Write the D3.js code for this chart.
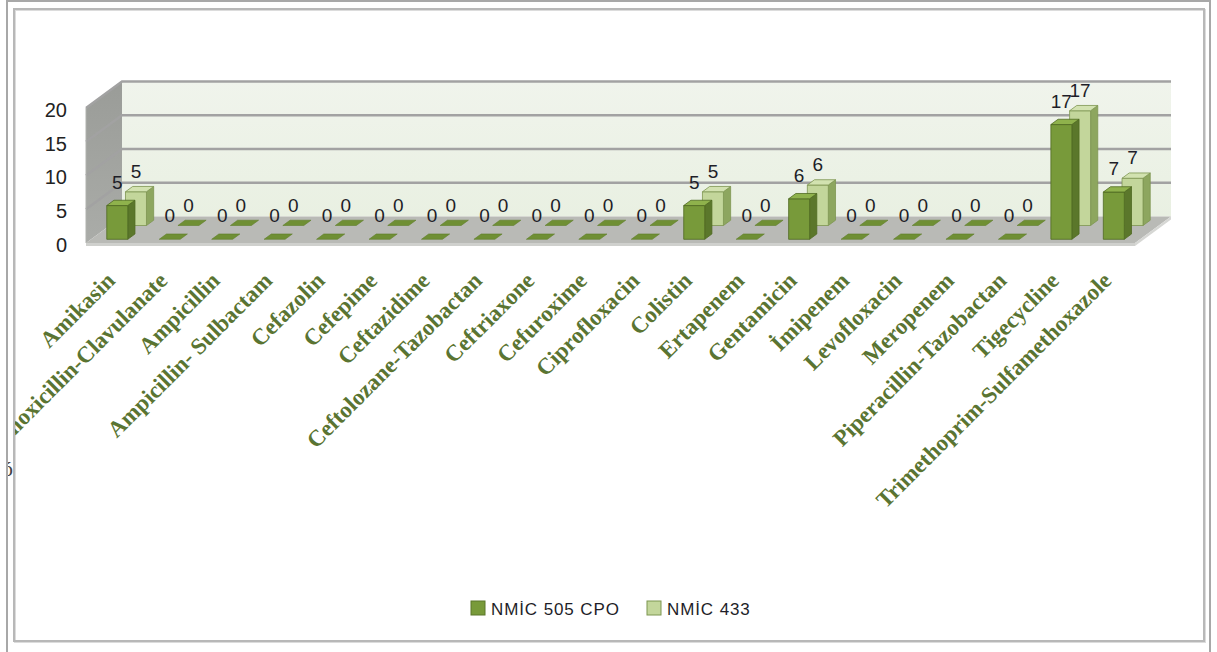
<!DOCTYPE html>
<html><head><meta charset="utf-8">
<script src="https://cdn.jsdelivr.net/npm/d3@7"></script>
<style>html,body{margin:0;padding:0;background:#fff;}svg{display:block;}</style>
</head><body>
<script>
const categories = ["Amikasin","Amoxicillin-Clavulanate","Ampicillin","Ampicillin- Sulbactam","Cefazolin","Cefepime","Ceftazidime","Ceftolozane-Tazobactan","Ceftriaxone","Cefuroxime","Ciprofloxacin","Colistin","Ertapenem","Gentamicin","İmipenem","Levofloxacin","Meropenem","Piperacillin-Tazobactan","Tigecycline","Trimethoprim-Sulfamethoxazole"];
const seriesNames = ["NMİC 505 CPO","NMİC 433"];
const series505 = [5,0,0,0,0,0,0,0,0,0,0,5,0,6,0,0,0,0,17,7];
const series433 = [5,0,0,0,0,0,0,0,0,0,0,5,0,6,0,0,0,0,17,7];
const yTicks = [0,5,10,15,20];

const W=1217,H=652;
const svg=d3.select("body").append("svg").attr("width",W).attr("height",H);

const X0=86,X1=1135,Y0=243,DX=36,DY=26.5;
const x=d3.scaleBand().domain(categories).range([X0,X1]);
const hv=d3.scaleLinear().domain([0,20]).range([0,135]);
const yFront=d3.scaleLinear().domain([0,20]).range([Y0,Y0-135]);
const P=(px,v,d)=>[px+d*DX, Y0-hv(v)-d*DY];
const poly=pts=>pts.map(p=>p.join(",")).join(" ");

const defs=svg.append("defs");
// stray glyph at left edge
defs.append("clipPath").attr("id","strayclip").append("rect").attr("x",8).attr("y",440).attr("width",6).attr("height",50);
svg.append("text").attr("x",2).attr("y",476).attr("clip-path","url(#strayclip)")
  .attr("font-family","Liberation Serif").attr("font-size",22).attr("fill","#444").text("ó");

svg.append("line").attr("x1",7).attr("x2",7).attr("y1",0).attr("y2",H).attr("stroke","#a8a8a8").attr("stroke-width",2);
svg.append("line").attr("x1",7).attr("x2",1210).attr("y1",1).attr("y2",1).attr("stroke","#a8a8a8").attr("stroke-width",2);
svg.append("line").attr("x1",1210).attr("x2",1210).attr("y1",0).attr("y2",H).attr("stroke","#a8a8a8").attr("stroke-width",2);
svg.append("rect").attr("x",15).attr("y",10).attr("width",1190).attr("height",632).attr("fill","none").attr("stroke","#dcdcdc").attr("stroke-width",2);
svg.append("rect").attr("x",14).attr("y",9).attr("width",1190).attr("height",632).attr("fill","none").attr("stroke","#b8b8b8").attr("stroke-width",2);

defs.append("clipPath").attr("id","inner").append("rect").attr("x",15).attr("y",10).attr("width",1188).attr("height",630);
const g=svg.append("g").attr("clip-path","url(#inner)");

const sg=defs.append("linearGradient").attr("id","sideg").attr("x1",0).attr("y1",0).attr("x2",0).attr("y2",1);
sg.append("stop").attr("offset",0).attr("stop-color","#9a9c98");
sg.append("stop").attr("offset",1).attr("stop-color","#aaaca8");
const bg=defs.append("linearGradient").attr("id","backg").attr("x1",0).attr("y1",0).attr("x2",0).attr("y2",1);
bg.append("stop").attr("offset",0).attr("stop-color","#f0f4ec");
bg.append("stop").attr("offset",1).attr("stop-color","#e9f0e2");

// back wall
g.append("polygon").attr("points",poly([P(X0,0,1),P(X1,0,1),P(X1,20,1),P(X0,20,1)])).attr("fill","url(#backg)");
// side wall
g.append("polygon").attr("points",poly([P(X0,0,0),P(X0,0,1),P(X0,20,1),P(X0,20,0)])).attr("fill","url(#sideg)");
// floor
g.append("polygon").attr("points",poly([P(X0,0,0),P(X1,0,0),P(X1,0,1),P(X0,0,1)])).attr("fill","#b9bab6");
g.append("polygon").attr("points",poly([P(X0,0,0),P(X1,0,0),[X1,Y0+3],[X0,Y0+3]])).attr("fill","#cfd0cd");
g.append("polygon").attr("points",poly([P(X1,0,0),P(X1,0,1),[X1+DX,Y0-DY+3],[X1,Y0+3]])).attr("fill","#d6d7d4");

// gridlines
yTicks.filter(t=>t>0).forEach(t=>{
  g.append("polyline").attr("points",poly([P(X0,t,0),P(X0,t,1),P(X1,t,1)]))
   .attr("fill","none").attr("stroke","#a2a2a2").attr("stroke-width",2.5);
});
g.append("line").attr("x1",P(X0,0,0)[0]).attr("y1",P(X0,0,0)[1]).attr("x2",P(X0,20,0)[0]).attr("y2",P(X0,20,0)[1]).attr("stroke","#b0b2ae").attr("stroke-width",1);

// y axis labels
const ax=g.append("g").attr("transform","translate(67,2)").call(d3.axisLeft(yFront).tickValues(yTicks).tickSize(0).tickPadding(0));
ax.select(".domain").remove();
ax.selectAll("text").attr("font-family","Liberation Sans").attr("font-size",20).attr("fill","#222");

// bars
const bw=x.bandwidth();
const seriesDefs=[
  {vals:series433,d0:0.66,d1:0.86,front:"#c3d69b",side:"#8da65f",top:"#d2e2b0",stroke:"#7d9650",lab:-14},
  {vals:series505,d0:0.14,d1:0.34,front:"#789a3a",side:"#5b772b",top:"#8fb24c",stroke:"#4f6a22",lab:-17}
];
seriesDefs.forEach(s=>{
  const sgp=g.append("g");
  categories.forEach((c,i)=>{
    const v=s.vals[i];
    const xl=x(c)+bw*0.3, xr=xl+bw*0.4;
    if(v>0){
      sgp.append("polygon").attr("points",poly([P(xr,0,s.d0),P(xr,0,s.d1),P(xr,v,s.d1),P(xr,v,s.d0)])).attr("fill",s.side).attr("stroke",s.stroke).attr("stroke-width",0.8);
      sgp.append("polygon").attr("points",poly([P(xl,0,s.d0),P(xr,0,s.d0),P(xr,v,s.d0),P(xl,v,s.d0)])).attr("fill",s.front).attr("stroke",s.stroke).attr("stroke-width",0.8);
      sgp.append("polygon").attr("points",poly([P(xl,v,s.d0),P(xr,v,s.d0),P(xr,v,s.d1),P(xl,v,s.d1)])).attr("fill",s.top).attr("stroke",s.stroke).attr("stroke-width",0.8);
    } else {
      sgp.append("polygon").attr("points",poly([P(xl,0,s.d0),P(xr,0,s.d0),P(xr,0,s.d1),P(xl,0,s.d1)])).attr("fill","#6f8f34").attr("stroke","#5f7d2a").attr("stroke-width",0.6);
    }
  });
});
// data labels
seriesDefs.forEach(s=>{
  categories.forEach((c,i)=>{
    const v=s.vals[i];
    const xl=x(c)+bw*0.3, xr=xl+bw*0.4;
    const p=P((xl+xr)/2,v,s.d0);
    g.append("text").attr("x",p[0]).attr("y",p[1]+s.lab).attr("text-anchor","middle")
     .attr("font-family","Liberation Sans").attr("font-size",19).attr("fill","#1e1e28").text(v);
  });
});

// category labels
categories.forEach(c=>{
  const cx=x(c)+bw/2+4, cy=282;
  g.append("text").attr("transform",`translate(${cx},${cy}) rotate(-45)`).attr("text-anchor","end")
   .attr("font-family","Liberation Serif").attr("font-weight","bold").attr("font-size",23)
   .attr("fill","#5a7432").text(c);
});

// legend
const leg=[{x:471,fill:"#789a3a",stroke:"#5b772b"},{x:647,fill:"#c3d69b",stroke:"#7d9650"}];
leg.forEach((l,i)=>{
  svg.append("rect").attr("x",l.x).attr("y",601).attr("width",14).attr("height",14).attr("fill",l.fill).attr("stroke",l.stroke).attr("stroke-width",1);
  svg.append("text").attr("x",l.x+20).attr("y",615).attr("font-family","Liberation Sans").attr("font-size",17).attr("letter-spacing",0.9).attr("fill","#1e1e28").text(seriesNames[i]);
});
</script>
</body></html>
